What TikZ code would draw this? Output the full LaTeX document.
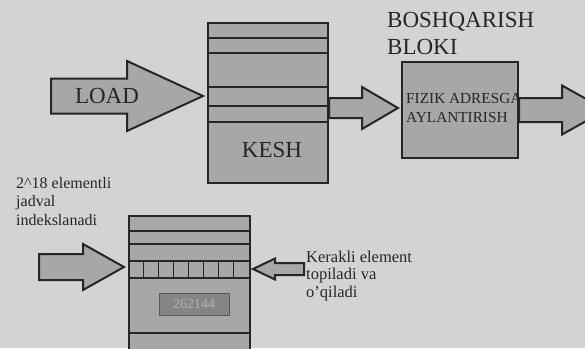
\documentclass[tikz,border=0pt]{standalone}
\usepackage{fontspec}
\setmainfont{Liberation Serif}
\usetikzlibrary{calc}
\definecolor{paper}{HTML}{D3D3D1}
\definecolor{boxfill}{HTML}{A7A7A5}
\definecolor{ink}{HTML}{262626}
\tikzset{
  blockarrow/.style = {draw=ink, fill=boxfill, line width=2pt, line join=miter},
  stack/.style      = {draw=ink, fill=boxfill, line width=2pt, inner sep=0pt},
  band/.style       = {draw=ink, line width=2pt},
  cell/.style       = {draw=ink, line width=0.8pt},
  label/.style      = {text=ink, inner sep=0pt}
}
% tail, tip, head length, shaft half width, head half width
\newcommand{\blockarrow}[5]{%
  \draw[blockarrow] let \p1=(#1), \p2=(#2) in
    (\x1,{\y2+#4}) -- ({\x2-(#3)},{\y2+#4}) -- ({\x2-(#3)},{\y2+#5}) -- (\x2,\y2)
    -- ({\x2-(#3)},{\y2-#5}) -- ({\x2-(#3)},{\y2-#4}) -- (\x1,{\y2-#4}) -- cycle;}

\begin{document}
\begin{tikzpicture}[x=1pt,y=-1pt]
  \useasboundingbox (0,0) rectangle (585,348);
  \fill[paper] (0,0) rectangle (585,348);
  \clip (0,0) rectangle (585,348);

  % cache stack
  \node (kesh) [stack, anchor=north west, minimum width=120pt, minimum height=160pt] at (207,22) {};
  \foreach \y in {38,53,87,106,122}
    \draw[band] (kesh.west |- 0,\y) -- (kesh.east |- 0,\y);
  \node (keshtext) [label, font=\fontsize{23}{28}\selectfont, anchor=base] at (272,157) {KESH};

  % control block
  \node (fizik) [stack, anchor=north west, minimum width=116pt, minimum height=96pt] at (401,61) {};
  \node (fiziktext) [label, font=\fontsize{15.3}{19}\selectfont, anchor=base west, align=left] at (406,122)
    {FIZIK ADRESGA\\AYLANTIRISH};
  \node (boshqa) [label, font=\fontsize{23}{27}\selectfont, anchor=base west, align=left] at (387,54)
    {BOSHQARISH\\BLOKI};

  % arrows, top row
  \coordinate (loadtail) at (51,96);
  \coordinate (loadtip)  at (203,96);
  \blockarrow{loadtail}{loadtip}{76pt}{17.5pt}{35pt}
  \node (load) [label, font=\fontsize{23}{28}\selectfont, anchor=base] at (107,103) {LOAD};
  \coordinate (midtip) at (398,108);
  \blockarrow{kesh.east}{midtip}{36pt}{10pt}{21pt}
  \coordinate (outtip) at (606,110);
  \blockarrow{fizik.east}{outtip}{44pt}{12pt}{24.5pt}

  % index table
  \node (jadval) [stack, anchor=north west, minimum width=121pt, minimum height=150pt] at (128,215) {};
  \foreach \y in {231,244,261,278,333}
    \draw[band] (jadval.west |- 0,\y) -- (jadval.east |- 0,\y);
  \foreach \k in {1,...,7}
    \draw[cell] (128+15.125*\k,261) -- (128+15.125*\k,278);
  \node (count) [draw=black!65, fill=black!48, text=black!30, minimum width=70pt, minimum height=22pt,
    font=\fontsize{14}{16}\selectfont] at (194,304) {262144};
  \node (jadvaltext) [label, font=\fontsize{16}{18.5}\selectfont, anchor=base west, align=left] at (16,225)
    {2\textasciicircum18 elementli\\jadval\\indekslanadi};

  % arrows, bottom row
  \coordinate (intail) at (39,267);
  \coordinate (intip)  at (124,267);
  \blockarrow{intail}{intip}{41pt}{13pt}{23pt}
  \coordinate (backtail) at (304,269);
  \coordinate (backtip)  at (253,269);
  \blockarrow{backtail}{backtip}{-22pt}{6pt}{10.5pt}
  \node (kerakli) [label, font=\fontsize{16.5}{17.5}\selectfont, anchor=base west, align=left] at (306,297)
    {Kerakli element\\topiladi va\\o'qiladi};
\end{tikzpicture}
\end{document}
